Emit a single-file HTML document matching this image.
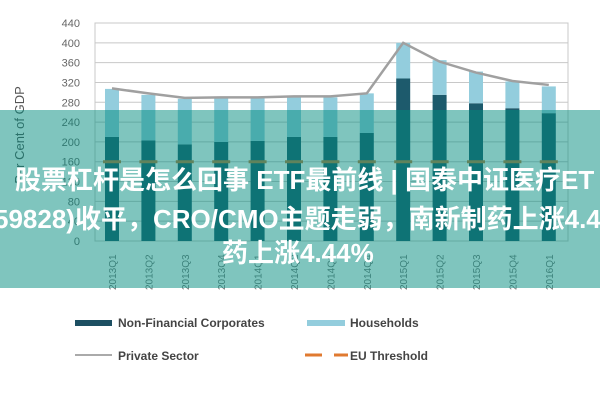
<!DOCTYPE html>
<html><head><meta charset="utf-8"><style>
body{margin:0;width:600px;height:400px;overflow:hidden;background:#fff;font-family:"Liberation Sans","Noto Sans CJK SC",sans-serif;position:relative}
svg{position:absolute;left:0;top:0}
.ov{position:absolute;left:0;top:110px;width:600px;height:178px;background:rgba(0,140,125,0.5)}
.t{position:absolute;color:#fff;font-weight:bold;font-size:26px;white-space:nowrap;line-height:30px}
</style></head><body>
<svg width="600" height="400" id="c"></svg>
<div class="ov"></div>
<div class="t" style="left:15px;top:165px">股票杠杆是怎么回事 ETF最前线 | 国泰中证医疗ET</div>
<div class="t" style="left:-6px;top:204px">59828)收平，CRO/CMO主题走弱，南新制药上涨4.44%</div>
<div class="t" style="left:222px;top:238px">药上涨4.44%</div>
<script>
const categories=["2013 Q1","2013 Q2","2013 Q3","2013 Q4","2014 Q1","2014 Q2","2014 Q3","2014 Q4","2015 Q1","2015 Q2","2015 Q3","2015 Q4","2016 Q1"];
const nfc=[210,203,195,200,202,210,210,218,328,295,278,268,258];
const households=[97,92,92,90,88,82,80,80,72,70,64,54,54];
const privateSector=[308,298,289,290,290,292,292,298,400,362,340,323,315];
const euThreshold=[160,160,160,160,160,160,160,160,160,160,160,160,160];
const yTicks=[0,40,80,120,160,200,240,280,320,360,400,440];
const NS="http://www.w3.org/2000/svg";
const svg=document.getElementById('c');
const x0=95,x1=568,y0=241,yTop=23;
const y=v=>y0-(v/440)*(y0-yTop);
const step=36.4;
const xc=i=>112+i*step;
function el(t,a){const e=document.createElementNS(NS,t);for(const k in a)e.setAttribute(k,a[k]);svg.appendChild(e);return e;}
yTicks.forEach(v=>{
 const g=el('line',{x1:x0,x2:x1,y1:y(v),y2:y(v),stroke:'#c8c8c8','stroke-width':1});
 
 
 const t=el('text',{x:80,y:y(v)+4,'text-anchor':'end','font-size':11,fill:'#666'});
 t.textContent=v;
 
 
});
const fr=el('rect',{x:x0,y:yTop,width:x1-x0,height:y0-yTop,fill:'none',stroke:'#c8c8c8'});


const yl=el('text',{x:0,y:0,transform:'translate(24,135) rotate(-90)','text-anchor':'middle','font-size':13,fill:'#555'});
yl.textContent='Per Cent of GDP';


categories.forEach((c,i)=>{
 const b=el('rect',{x:xc(i)-7,y:y(nfc[i]),width:14,height:y0-y(nfc[i]),fill:'#1d5a6c'});
 
 
 const h=el('rect',{x:xc(i)-7,y:y(nfc[i]+households[i]),width:14,height:y(nfc[i])-y(nfc[i]+households[i]),fill:'#93cddd'});
 
 
 const d=el('line',{x1:xc(i)-9,x2:xc(i)+9,y1:y(euThreshold[i]),y2:y(euThreshold[i]),stroke:'#c07a3a','stroke-width':3});
 
 
 const t=el('text',{x:0,y:0,transform:`translate(${xc(i)+4},290) rotate(-90)`,'font-size':10,fill:'#777'});
 t.textContent=c.replace(' ','');
 
 
});
const pl=el('polyline',{points:privateSector.map((v,i)=>xc(i)+','+y(v)).join(' '),fill:'none',stroke:'#a0a0a0','stroke-width':2.5});


function lg(name,tx,ty,label){
 const t=el('text',{x:tx,y:ty+5,'font-size':12,'font-weight':'bold',fill:'#444'});
 t.textContent=label;
 
 
}
let r=el('rect',{x:75,y:320,width:37,height:6,fill:'#1d4f62'});


lg('legend-nfc',118,322,'Non-Financial Corporates');
r=el('rect',{x:307,y:320,width:38,height:6,fill:'#93cddd'});


lg('legend-households',350,322,'Households');
r=el('line',{x1:75,x2:112,y1:355,y2:355,stroke:'#aaa','stroke-width':2});


lg('legend-private',118,355,'Private Sector');
r=el('line',{x1:305,x2:348,y1:355,y2:355,stroke:'#e07a30','stroke-width':3,'stroke-dasharray':'17 12'});


lg('legend-eu',350,355,'EU Threshold');
</script>
</body></html>
